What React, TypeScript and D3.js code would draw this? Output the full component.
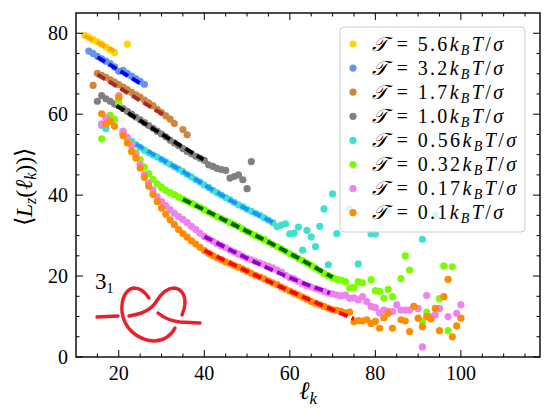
import * as d3 from 'd3'

type Pt = [number, number]

const tempLabels = ['5.6', '3.2', '1.7', '1.0', '0.56', '0.32', '0.17', '0.1']
const dotColors = ['#ffd700', '#6495ed', '#cd853f', '#808080', '#40e0d0', '#7cfc00', '#ee82ee', '#ff8c00']
const fitColors = ['#ffa500', '#0000ff', '#a52a2a', '#000000', '#1e90ff', '#006400', '#9400d3', '#ff0000']

const t56: Pt[] = [[12, 79.5], [13, 79], [14, 78.4], [15, 77.9], [16, 77.3], [17, 76.6], [18, 75.9], [19, 75.2], [22, 77.3]]
const t32: Pt[] = [[13, 75.6], [14, 75], [15, 74.3], [16, 73.7], [17, 73.1], [18, 72.5], [19, 71.7], [20, 70.6], [21, 70.8], [22, 70.1], [23, 69.4], [24, 68.8], [25, 68.1], [26, 67.4]]
const t17: Pt[] = [[14, 67.1], [15, 70.1], [16, 69.6], [17, 69.1], [18, 68.5], [19, 67.9], [20, 67.3], [21, 66.7], [22, 66.1], [23, 65.4], [24, 64.8], [25, 64.2], [26, 63.5], [27, 62.8], [28, 62.1], [29, 61.2], [30, 60.4], [31, 59.6], [32, 58.8], [33, 57.7], [35, 56.2], [36, 54.9]]
const t10: Pt[] = [[15, 63.2], [16, 64.6], [17, 63.8], [18, 63.2], [19, 62.5], [20, 62.1], [21, 61.4], [22, 60.7], [23, 60], [24, 59.3], [25, 58.6], [26, 57.9], [27, 57.2], [28, 56.5], [29, 55.8], [30, 55.1], [31, 54.4], [32, 53.6], [33, 52.9], [34, 52.2], [35, 51.5], [36, 50.8], [37, 50.2], [38, 49.6], [39, 49.1], [40, 48.6], [41, 47.5], [42, 47.1], [43, 46.6], [44, 46.3], [45, 46.1], [46, 44.2], [47, 44.6], [48, 45], [49, 43.8], [50, 41.6], [51, 48.3]]
const t056: Pt[] = [[16, 57.2], [17, 56.4], [20, 63.8], [21, 55.2], [22, 54.2], [23, 53.3], [24, 52.5], [25, 51.8], [26, 51.1], [27, 50.5], [28, 49.9], [29, 49.4], [30, 48.8], [31, 48.2], [32, 47.6], [33, 47], [34, 46.4], [35, 45.8], [36, 45.1], [37, 44.5], [38, 43.8], [39, 43.2], [40, 42.5], [41, 41.9], [42, 41.2], [43, 40.6], [44, 40], [45, 39.4], [46, 38.8], [47, 38.2], [48, 37.6], [49, 37.1], [50, 36.5], [51, 36], [52, 35.5], [53, 35], [54, 34.4], [55, 33.8], [56, 33.2], [57, 32.2], [58, 32.6], [59, 32.9], [60, 30.4], [61, 30.6], [62, 32.1], [63, 26.4], [64, 31.3], [65, 29.7], [66, 27.3], [67, 32.3], [68, 36.6], [69, 22.8], [70, 40.3], [71, 30.5], [74, 36.6], [76, 23], [79, 30.4], [80, 30.4], [83, 36.2], [91, 29.1], [94, 35]]
const t032: Pt[] = [[16, 53.9], [18, 59.7], [19, 58.7], [20, 62.8], [21, 55.3], [22, 53.8], [23, 52.2], [24, 50.5], [25, 48.8], [26, 46.9], [27, 45.3], [28, 43.9], [29, 42.8], [30, 41.9], [31, 41.2], [32, 40.6], [33, 40.1], [34, 39.5], [35, 39], [36, 38.5], [37, 38], [38, 37.5], [39, 37], [40, 36.4], [41, 35.8], [42, 35.2], [43, 34.7], [44, 34.2], [45, 33.7], [46, 33.2], [47, 32.7], [48, 32.2], [49, 31.6], [50, 31], [51, 30.5], [52, 30], [53, 29.5], [54, 29], [55, 28.4], [56, 27.8], [57, 27.3], [58, 26.7], [59, 26.1], [60, 25.5], [61, 25], [62, 24.4], [63, 23.8], [64, 23.2], [65, 22.6], [66, 22], [67, 21.3], [68, 20.6], [69, 20.1], [70, 19.6], [71, 19.2], [72, 19], [73, 18.6], [74, 17], [75, 17.2], [76, 18.6], [77, 18.3], [79, 19.1], [80, 16.4], [81, 16.2], [82, 14.5], [83, 16.7], [84, 14.9], [86, 19.4], [87, 25], [88, 21.5], [91, 8.8], [92, 11.1], [95, 14.4], [96, 22.5], [97, 6.5], [98, 22.3]]
const t017: Pt[] = [[16, 57.6], [17, 59.1], [18, 58.3], [20, 64.6], [21, 55.8], [22, 54.3], [23, 52.3], [24, 50.1], [25, 47.6], [26, 45], [27, 43], [28, 41.3], [29, 39.6], [30, 38.4], [31, 37.4], [32, 36.4], [33, 35.5], [34, 34.7], [35, 34], [36, 33.2], [37, 32.3], [38, 31.5], [39, 30.6], [40, 29.8], [41, 29.2], [42, 28.6], [43, 28], [44, 27.5], [45, 27], [46, 26.4], [47, 25.9], [48, 25.4], [49, 24.9], [50, 24.4], [51, 24], [52, 23.6], [53, 23.2], [54, 22.8], [55, 22.4], [56, 22], [57, 21.5], [58, 21], [59, 20.2], [60, 19.6], [61, 19.3], [62, 18.7], [63, 18.1], [64, 17.6], [65, 17.3], [66, 16.9], [67, 16.6], [68, 16.2], [69, 15.8], [70, 15.6], [71, 15.3], [72, 15.1], [73, 15.3], [74, 14.5], [75, 14.6], [76, 14.1], [77, 14.9], [78, 13.7], [79, 12.5], [80, 12.2], [81, 10.9], [82, 11.6], [83, 11.3], [84, 11.2], [85, 12.9], [86, 11.6], [87, 11.6], [88, 11.6], [89, 12.5], [90, 12], [91, 2.5], [92, 15.2], [93, 10], [94, 10.4], [95, 12], [97, 10], [99, 10.8], [100, 12.9]]
const t01: Pt[] = [[16, 60.1], [17, 57.6], [18, 58.2], [19, 57], [20, 64.2], [21, 54.7], [22, 52.9], [23, 50.8], [24, 49.2], [25, 46.7], [26, 44.4], [27, 42.2], [28, 40.2], [29, 38.4], [30, 36.8], [31, 35.3], [32, 33.9], [33, 32.7], [34, 31.5], [35, 30.5], [36, 29.6], [37, 28.7], [38, 27.9], [39, 27.1], [40, 26.3], [41, 25.6], [42, 25], [43, 24.5], [44, 24], [45, 23.5], [46, 23.1], [47, 22.6], [48, 22.2], [49, 21.7], [50, 21.2], [51, 20.7], [52, 20.2], [53, 19.8], [54, 19.3], [55, 18.8], [56, 18.3], [57, 17.9], [58, 17.3], [59, 16.8], [60, 16.3], [61, 15.8], [62, 15.3], [63, 14.8], [64, 14.3], [65, 13.7], [66, 13.3], [67, 12.9], [68, 12.5], [69, 12.1], [70, 11.7], [71, 11.5], [72, 11.3], [73, 10.9], [74, 11.1], [75, 8.7], [76, 9], [77, 8.9], [78, 9.2], [79, 8.3], [80, 8.8], [81, 7.1], [82, 9.7], [83, 10.8], [84, 7.1], [86, 9.2], [87, 8.9], [88, 6.3], [89, 12.5], [90, 9.6], [91, 7.5], [92, 10], [93, 9.4], [94, 12], [95, 6.5], [96, 14.9], [97, 19.2], [98, 5], [99, 7.7], [100, 9.6]]

// dashed fits, one per temperature
const fit56: Pt[] = [[12, 79.3], [19, 75.6]]
const fit32: Pt[] = [[15, 74.1], [25.5, 67.3]]
const fit17: Pt[] = [[15, 69.8], [31, 59.5]]
const fit10: Pt[] = [[19.5, 62.1], [30, 55.1], [39.8, 48.8]]
const fit056: Pt[] = [[24, 52.6], [35, 45.8], [45, 39.4], [56, 33.3]]
const fit032: Pt[] = [[35, 39], [45, 33.7], [55, 28.4], [70, 19.7]]
const fit017: Pt[] = [[40, 29.8], [50, 24.4], [60, 19.6], [69.4, 15.8]]
const fit01: Pt[] = [[40, 26.3], [50, 21.2], [60, 16.3], [75, 9.4]]

const series = [t56, t32, t17, t10, t056, t032, t017, t01]
const fits = [fit56, fit32, fit17, fit10, fit056, fit032, fit017, fit01]

const xMajor = [20, 40, 60, 80, 100]
const yMajor = [0, 20, 40, 60, 80]

const W = 550
const H = 419
const M = { top: 13, right: 10, bottom: 62, left: 76 }
const FONT = '"Liberation Serif", serif'

export default function App() {
  const x = d3.scaleLinear().domain([10, 118.5]).range([M.left, W - M.right])
  const y = d3.scaleLinear().domain([0, 85]).range([H - M.bottom, M.top])
  const [x0, x1] = x.range()
  const [y0, y1] = y.range()
  const xMinor = d3.range(15, 118, 5).filter((v) => v % 20 !== 0)
  const yMinor = d3.range(5, 85, 5).filter((v) => v % 20 !== 0)
  const line = d3
    .line<Pt>()
    .x((d) => x(d[0]))
    .y((d) => y(d[1]))
    .curve(d3.curveMonotoneX)

  const legX = 340
  const legY = 27
  const rowH = 24.1

  return (
    <svg width={W} height={H} style={{ position: 'absolute', left: 0, top: 0, background: '#fff', fontFamily: FONT }}>
      <rect width={W} height={H} fill="#fff" />
      {series.map((s, i) => (
        <g key={'s' + i} fill={dotColors[i]}>
          {s.map((d, j) => (
            <circle key={j} cx={x(d[0])} cy={y(d[1])} r={3.6} />
          ))}
        </g>
      ))}
      {fits.map((f, i) => (
        <path key={'f' + i} d={line(f) ?? ''} fill="none" stroke={fitColors[i]} strokeWidth={4} strokeDasharray="9 4.5" />
      ))}

      {/* knot inset */}
      <g fill="none" stroke="#e8202a" strokeWidth={3.4} strokeLinecap="round">
        <path d="M97,317 L118,316" />
        <path d="M129,316 C142,314 151,310 156,302 C162,292 168,288 174,288 C183,289 187,298 184,309 L182,315" />
        <path d="M175,328 C171,336 163,341 154,341 C137,340 124,328 122,312 C121,298 126,289 134,288 C140,288 145,292 149,298" />
        <path d="M158,313 C164,318 171,321 180,322 L200,323" />
      </g>
      <text x={95} y={289} fontSize={23} fill="#000">
        3<tspan fontSize={14} dy={4}>1</tspan>
      </text>

      {/* frame and ticks */}
      <rect x={x0} y={y1} width={x1 - x0} height={y0 - y1} fill="none" stroke="#000" strokeWidth={1.4} />
      <g stroke="#000" strokeWidth={1}>
        {xMajor.map((v) => (
          <g key={'xm' + v}>
            <line x1={x(v)} x2={x(v)} y1={y0} y2={y0 - 7} />
            <line x1={x(v)} x2={x(v)} y1={y1} y2={y1 + 7} />
          </g>
        ))}
        {xMinor.map((v) => (
          <g key={'xn' + v}>
            <line x1={x(v)} x2={x(v)} y1={y0} y2={y0 - 3.5} />
            <line x1={x(v)} x2={x(v)} y1={y1} y2={y1 + 3.5} />
          </g>
        ))}
        {yMajor.map((v) => (
          <g key={'ym' + v}>
            <line x1={x0} x2={x0 + 7} y1={y(v)} y2={y(v)} />
            <line x1={x1} x2={x1 - 7} y1={y(v)} y2={y(v)} />
          </g>
        ))}
        {yMinor.map((v) => (
          <g key={'yn' + v}>
            <line x1={x0} x2={x0 + 3.5} y1={y(v)} y2={y(v)} />
            <line x1={x1} x2={x1 - 3.5} y1={y(v)} y2={y(v)} />
          </g>
        ))}
      </g>
      <g fontSize={20} fill="#000">
        {xMajor.map((v) => (
          <text key={'xl' + v} x={x(v)} y={y0 + 23} textAnchor="middle">
            {v}
          </text>
        ))}
        {yMajor.map((v) => (
          <text key={'yl' + v} x={x0 - 8} y={y(v) + 6.5} textAnchor="end">
            {v}
          </text>
        ))}
      </g>
      <text x={(x0 + x1) / 2} y={H - 20} fontSize={25} textAnchor="middle" fontStyle="italic">
        ℓ<tspan fontSize={17} dy={5}>k</tspan>
      </text>
      <text transform={`translate(32,${(y0 + y1) / 2 + 2}) rotate(-90)`} fontSize={24} textAnchor="middle">
        ⟨<tspan fontStyle="italic">L</tspan>
        <tspan fontSize={16} dy={4} fontStyle="italic">z</tspan>
        <tspan dy={-4}>(</tspan>
        <tspan fontStyle="italic">ℓ</tspan>
        <tspan fontSize={16} dy={4} fontStyle="italic">k</tspan>
        <tspan dy={-4}>))⟩</tspan>
      </text>

      {/* legend */}
      <rect x={legX} y={legY} width={185} height={205} rx={4} fill="#fff" fillOpacity={0.8} stroke="#cccccc" strokeWidth={1} />
      {tempLabels.map((t, i) => {
        const cy = legY + 17 + i * rowH
        return (
          <g key={'lg' + t}>
            <circle cx={legX + 13} cy={cy} r={3.6} fill={dotColors[i]} />
            <text
              x={legX + 32}
              y={cy + 6.5}
              fontSize={20}
              fill="#000"
              textLength={t.length > 3 ? 144 : 131}
              lengthAdjust="spacing"
            >
              <tspan fontStyle="italic">𝒯</tspan>
              {' = '}
              {t}
              <tspan fontStyle="italic">k</tspan>
              <tspan fontSize={14} dy={4} fontStyle="italic">B</tspan>
              <tspan dy={-4} fontStyle="italic">T</tspan>/<tspan fontStyle="italic">σ</tspan>
            </text>
          </g>
        )
      })}
    </svg>
  )
}
